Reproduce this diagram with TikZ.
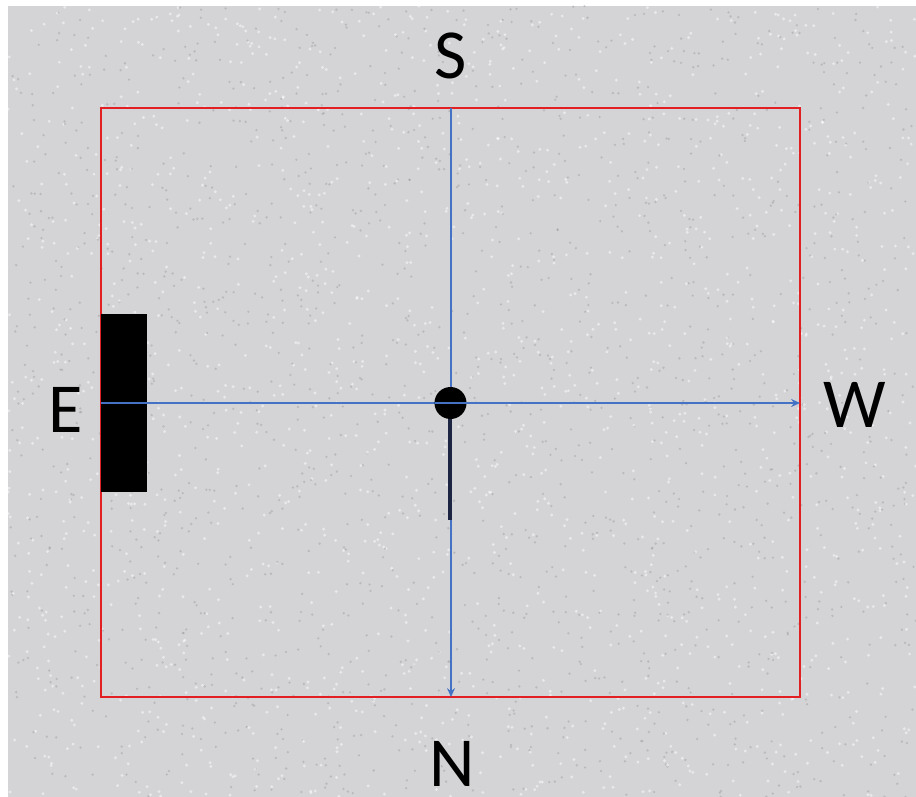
\documentclass[tikz,border=0pt]{standalone}
\usepackage{fontspec}
\setmainfont{Carlito}
\usetikzlibrary{arrows.meta}
\definecolor{axisblue}{RGB}{68,114,196}
\definecolor{boxred}{RGB}{226,32,36}
\definecolor{bggray}{RGB}{212,212,215}
\definecolor{pinnavy}{RGB}{28,38,66}
\tikzset{
    compass/.style={font=\fontsize{40}{40}\selectfont, inner sep=0pt},
    axisline/.style={axisblue, line width=0.9pt, -{Stealth[length=5pt, width=4.5pt]}},
}
\begin{document}
\begin{tikzpicture}[x=0.02cm, y=-0.02cm]
    \useasboundingbox (0,0) rectangle (916,797);

    % Background with speckle
    \fill[bggray] (8,6) rectangle (916,797);
    \pgfmathsetseed{7}
    \foreach \i in {1,...,1600} {
        \fill[white, opacity=0.5] (8+908*rnd, 6+791*rnd) circle (1.6);
        \fill[gray!90, opacity=0.35] (8+908*rnd, 6+791*rnd) circle (1.3);
    }

    % Room outline
    \coordinate (nw) at (101,108);
    \coordinate (se) at (800,697);
    \coordinate (topmid) at (451,108);
    \coordinate (botmid) at (451,697);
    \coordinate (leftmid) at (101,403);
    \coordinate (rightmid) at (800,403);
    \draw[boxred, line width=1pt] (nw) rectangle (se);

    % Axes
    \draw[axisline] (topmid) -- (botmid);
    \draw[axisline] (leftmid) -- (rightmid);

    % Window on the east wall
    \fill[black] (101,314) rectangle (147,492);
    \draw[axisblue, line width=0.9pt] (leftmid) -- (147,403);

    % Pointer and pivot
    \coordinate (pointer) at (450,520);
    \draw[pinnavy, line width=1.8pt] (450,410) -- (pointer);
    \fill[black] (450.5,403) circle (16);
    \draw[axisblue, line width=0.9pt] (434.5,403) -- (466.5,403);

    % Labels
    \node[compass] (south) at (451,56) {S};
    \node[compass] (north) at (452,764) {N};
    \node[compass] (east) at (66,410) {E};
    \node[compass] (west) at (855,405) {W};
\end{tikzpicture}
\end{document}
